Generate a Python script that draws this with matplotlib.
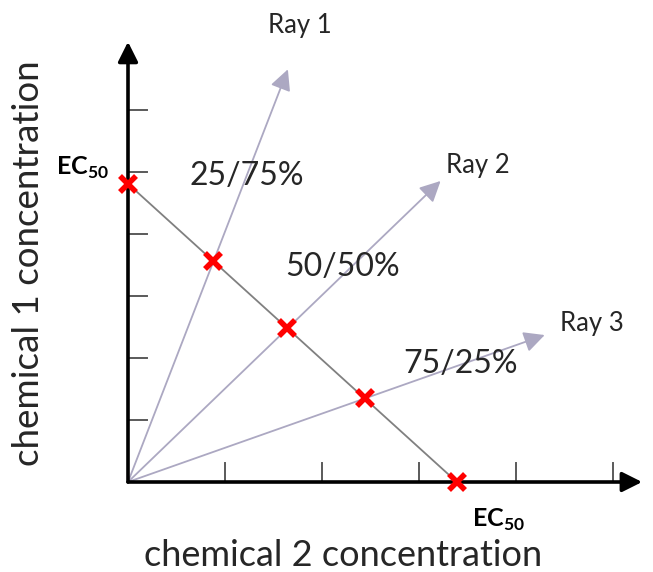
import numpy as np
import matplotlib
matplotlib.use("Agg")
import matplotlib.pyplot as plt

# --- data ---
ec50_chem2 = 3.39          # EC50 of chemical 2 (x axis, tick units)
ec50_chem1 = 4.81          # EC50 of chemical 1 (y axis, tick units)
mix_fraction = [0.26, 0.485, 0.72]   # share of chemical 2 along the EC50 line
ray_reach = [1.87, 1.96, 1.76]       # how far each ray runs past its mixture point
ray_labels = ["Ray 1", "Ray 2", "Ray 3"]
mix_labels = ["25/75%", "50/50%", "75/25%"]
x_ticks = [1, 2, 3, 4, 5]
y_ticks = [1, 2, 3, 4, 5, 6]

# --- layout ---
W, H = 653, 572
ORIGIN = (128, 482)   # pixel position of (0, 0)
XU, YU = 97, 62       # pixels per tick unit
ray_label_off = [(0.12, 0.70), (0.38, 0.25), (0.49, 0.19)]
mix_label_off = [(0.34, 1.38), (0.57, 0.99), (0.99, 0.56)]

FONT = "Lato"
plt.rcParams["font.family"] = [FONT, "DejaVu Sans"]
plt.rcParams["mathtext.fontset"] = "custom"
plt.rcParams["mathtext.rm"] = FONT
plt.rcParams["mathtext.bf"] = FONT + ":bold"

RAY_COL = "#c4c2d6"
HEAD_COL = "#aca8c2"
TXT_COL = "#262626"

fig = plt.figure(figsize=(W / 100, H / 100), dpi=100)
ax = fig.add_axes([0, 0, 1, 1])
ax.set_xlim(-ORIGIN[0] / XU, (W - ORIGIN[0]) / XU)
ax.set_ylim(-(H - ORIGIN[1]) / YU, ORIGIN[1] / YU)
ax.axis("off")

# mixture points on the EC50 isobole
px = [f * ec50_chem2 for f in mix_fraction]
py = [(1 - f) * ec50_chem1 for f in mix_fraction]

# rays from the origin
for i in range(3):
    tx, ty = px[i] * ray_reach[i], py[i] * ray_reach[i]
    ax.annotate("", xy=(tx, ty), xytext=(0, 0),
                arrowprops=dict(arrowstyle="-|>,head_length=0.7,head_width=0.35",
                                color=RAY_COL, fc=HEAD_COL, ec=HEAD_COL,
                                lw=1.3, shrinkA=0, shrinkB=0, mutation_scale=18))
    ax.text(tx + ray_label_off[i][0], ty + ray_label_off[i][1], ray_labels[i],
            fontsize=18.5, color=TXT_COL, ha="center", va="center")
    ax.text(px[i] + mix_label_off[i][0], py[i] + mix_label_off[i][1], mix_labels[i],
            fontsize=23, color=TXT_COL, ha="center", va="center")

# isobole line
ax.plot([0, ec50_chem2], [ec50_chem1, 0], color="#808080", lw=1.3, zorder=3)

# axes with arrow heads
for end in [(0, 7.1), (5.3, 0)]:
    ax.annotate("", xy=end, xytext=(0, 0),
                arrowprops=dict(arrowstyle="-|>,head_length=0.6,head_width=0.3",
                                color="black", lw=2.6, shrinkA=0, shrinkB=0,
                                mutation_scale=20), zorder=4)
for t in y_ticks:
    ax.plot([0, 0.2], [t, t], color="#5a5a5a", lw=1.4, zorder=2)
for t in x_ticks:
    ax.plot([t, t], [0, 0.3], color="#5a5a5a", lw=1.4, zorder=2)

# red crosses
ax.plot([0] + px + [ec50_chem2], [ec50_chem1] + py + [0], ls="none",
        marker="x", ms=11, mew=4, color="#ff0000", zorder=5)

ec_lab = r"$\mathbf{EC}_{\mathbf{50}}$"
ax.text(-0.2, 5.07, ec_lab, fontsize=18, ha="right", va="center", color="black")
ax.text(ec50_chem2 + 0.43, -0.61, ec_lab, fontsize=18, ha="center", va="center", color="black")

fig.text(343 / W, 1 - 555 / H, "chemical 2 concentration", fontsize=26,
         color=TXT_COL, ha="center", va="center")
fig.text(29 / W, 1 - 263 / H, "chemical 1 concentration", fontsize=26.5,
         color=TXT_COL, ha="center", va="center", rotation=90)

fig.savefig("out.png", dpi=100)
